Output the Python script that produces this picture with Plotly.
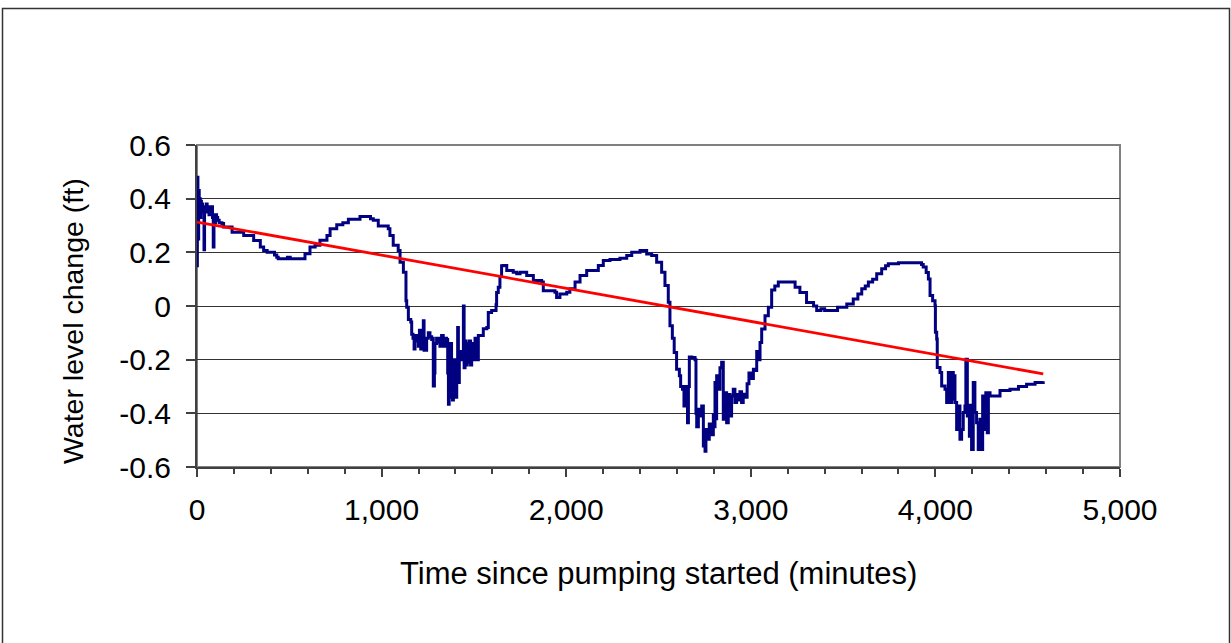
import plotly.graph_objects as go

# Water level record during the pumping test (minutes since start, change in ft)
time_min = [
    0, 2, 5, 7, 9, 12, 15, 18, 21, 24, 27, 30, 34, 38, 41, 45, 50, 55, 60, 65,
    70, 75, 80, 84, 88, 92, 96, 100, 106, 112, 120, 135, 144, 181, 190, 244,
    253, 298, 307, 334, 343, 361, 380, 395, 420, 432, 440, 470, 490, 505, 576,
    585, 612, 640, 666, 704, 721, 757, 790, 820, 883, 928, 940, 955, 982, 1010,
    1036, 1045, 1063, 1090, 1100, 1118, 1132,
    1136, 1145, 1158, 1163, 1170, 1176, 1181, 1190, 1199, 1205, 1212, 1220,
    1226, 1230, 1244, 1253, 1262, 1271, 1276, 1280, 1286, 1289, 1298, 1310,
    1316, 1325, 1334, 1345, 1352, 1358, 1362, 1366, 1370, 1379, 1384, 1389,
    1398, 1407, 1412, 1416, 1421, 1430, 1443, 1447, 1452, 1458, 1464, 1470,
    1476, 1482, 1488, 1497, 1506, 1515, 1524, 1533, 1551, 1570, 1578, 1596,
    1620, 1623, 1632, 1641, 1650,
    1659, 1678, 1713, 1732, 1750, 1786, 1822, 1867, 1876, 1939, 1948, 1966,
    2003, 2020, 2048, 2075, 2111, 2174, 2201, 2237, 2291, 2328, 2355, 2400,
    2436, 2463, 2490, 2517, 2535,
    2553, 2562, 2575, 2585, 2598, 2613, 2620, 2630, 2638, 2645, 2653, 2657,
    2662, 2667, 2680, 2698, 2703, 2707, 2716, 2725, 2734, 2743, 2752, 2757,
    2766, 2775, 2784, 2797, 2802, 2806, 2811, 2815, 2824, 2833, 2842, 2851,
    2860, 2869, 2878, 2887, 2896, 2905, 2914, 2923, 2932, 2941, 2950, 2959,
    2968, 2980, 2990, 3000, 3014, 3023, 3032, 3041, 3050, 3059, 3077, 3095,
    3113, 3130, 3149, 3221, 3240, 3266, 3302, 3321, 3340,
    3357, 3380, 3400, 3447, 3470, 3520, 3555, 3580, 3601, 3620, 3637, 3660,
    3682, 3709, 3730, 3745, 3800, 3907, 3925, 3934, 3950, 3962, 3971, 3985,
    3998, 4000, 4007, 4010, 4025, 4034, 4052, 4061, 4070, 4079, 4088, 4097,
    4101, 4106, 4115, 4124, 4133, 4142, 4151, 4160, 4165, 4173, 4184, 4187,
    4196, 4205, 4214, 4223, 4232, 4241, 4250, 4256, 4268, 4273, 4281, 4287,
    4296, 4350, 4404, 4450, 4494, 4540, 4584,
]

level_ft = [
    0.15, 0.48, 0.40, 0.25, 0.43, 0.36, 0.40, 0.33, 0.39, 0.35, 0.38, 0.36,
    0.37, 0.21, 0.37, 0.35, 0.38, 0.36, 0.37, 0.34, 0.36, 0.35, 0.37, 0.33,
    0.22, 0.33, 0.31, 0.34, 0.33, 0.32, 0.31, 0.307, 0.294, 0.294, 0.275,
    0.275, 0.263, 0.263, 0.244, 0.244, 0.22, 0.207, 0.20, 0.20, 0.19, 0.182,
    0.176, 0.176, 0.182, 0.176, 0.176, 0.195, 0.22, 0.226, 0.245, 0.263,
    0.288, 0.303, 0.31, 0.323, 0.334, 0.334, 0.325, 0.32, 0.298, 0.298,
    0.288, 0.263, 0.226, 0.207, 0.163, 0.126, 0.02,
    -0.005, -0.05, -0.06, -0.105, -0.12, -0.16, -0.11, -0.13, -0.15, -0.09,
    -0.16, -0.11, -0.055, -0.165, -0.12, -0.10, -0.115, -0.125, -0.12,
    -0.298, -0.25, -0.14, -0.12, -0.135, -0.15, -0.11, -0.15, -0.12, -0.125,
    -0.25, -0.366, -0.34, -0.14, -0.20, -0.35, -0.20, -0.34, -0.21, -0.08,
    -0.285, -0.17, -0.20, 0.0, -0.23, -0.13, -0.22, -0.14, -0.21, -0.13,
    -0.22, -0.14, -0.20, -0.12, -0.20, -0.11, -0.11, -0.085, -0.08, -0.024,
    -0.017, 0.005, 0.05, 0.07, 0.11, 0.15,
    0.151, 0.132, 0.126, 0.12, 0.126, 0.114, 0.095, 0.089, 0.057, 0.051,
    0.032, 0.045, 0.051, 0.064, 0.089, 0.114, 0.132, 0.151, 0.17, 0.173,
    0.178, 0.188, 0.20, 0.207, 0.194, 0.188, 0.163, 0.126, 0.076,
    0.014, -0.074, -0.12, -0.173, -0.236, -0.26, -0.30, -0.31, -0.373, -0.30,
    -0.30, -0.435, -0.30, -0.19, -0.192, -0.20, -0.40, -0.45, -0.385, -0.41,
    -0.373, -0.522, -0.541, -0.46, -0.497, -0.44, -0.48, -0.404, -0.45,
    -0.285, -0.42, -0.26, -0.31, -0.23, -0.21, -0.422, -0.323, -0.435, -0.33,
    -0.41, -0.335, -0.31, -0.36, -0.33, -0.35, -0.32, -0.36, -0.329, -0.34,
    -0.29, -0.25, -0.27, -0.236, -0.24, -0.17, -0.20, -0.136, -0.086, -0.036,
    -0.005, 0.06, 0.075, 0.089, 0.089, 0.07, 0.05, 0.013, 0.013, 0.0,
    -0.017, -0.01, -0.017, -0.017, -0.005, 0.007, 0.026, 0.045, 0.064, 0.075,
    0.089, 0.10, 0.12, 0.139, 0.15, 0.157, 0.161, 0.161, 0.155, 0.145, 0.125,
    0.101, 0.039, 0.02, 0.001, -0.098, -0.123, -0.229, -0.248, -0.298, -0.31,
    -0.36, -0.248, -0.36, -0.248, -0.347, -0.26, -0.36, -0.46, -0.373,
    -0.497, -0.46, -0.397, -0.373, -0.198, -0.41, -0.485, -0.37, -0.535,
    -0.285, -0.397, -0.435, -0.535, -0.422, -0.535, -0.335, -0.46, -0.323,
    -0.472, -0.323, -0.335, -0.315, -0.31, -0.30, -0.292, -0.285, -0.28,
]

# Linear trend through the record (end points of the fitted line)
trend_time = [0, 4584]
trend_level = [0.313, -0.253]

# Axis ticks
x_tickvals = [0, 1000, 2000, 3000, 4000, 5000]
x_ticktext = ["0", "1,000", "2,000", "3,000", "4,000", "5,000"]
y_tickvals = [0.6, 0.4, 0.2, 0, -0.2, -0.4, -0.6]
y_ticktext = ["0.6", "0.4", "0.2", "0", "-0.2", "-0.4", "-0.6"]

W, H = 1231, 643
ML, MR, MT, MB = 197, 111, 145, 176
PW, PH = W - ML - MR, H - MT - MB

FONT = "Liberation Sans, Arial, sans-serif"
TICK_SIZE = 30


def px_to_paper_x(px):
    return (px - ML) / PW


def py_to_paper_y(py):
    return (H - MB - py) / PH


fig = go.Figure()
# logger readings are held between samples, so the record is drawn as steps
fig.add_trace(go.Scatter(
    x=time_min, y=level_ft, mode="lines",
    line=dict(color="#000080", width=3, shape="hv"),
    showlegend=False, hoverinfo="x+y",
))
fig.add_trace(go.Scatter(
    x=trend_time, y=trend_level, mode="lines",
    line=dict(color="#FF0000", width=2.8),
    showlegend=False, hoverinfo="skip",
))

fig.update_layout(
    width=W, height=H, autosize=False,
    margin=dict(l=ML, r=MR, t=MT, b=MB, pad=0),
    paper_bgcolor="white", plot_bgcolor="white",
    font=dict(family=FONT, size=TICK_SIZE, color="black"),
    showlegend=False,
    shapes=[
        # plot-area frame (top and right edges show in grey)
        dict(type="rect", xref="paper", yref="paper", x0=0, x1=1, y0=0, y1=1,
             line=dict(color="#808080", width=2), layer="below"),
        # chart-area frame
        dict(type="rect", xref="paper", yref="paper",
             x0=px_to_paper_x(2.5), x1=px_to_paper_x(1229.5),
             y0=py_to_paper_y(700), y1=py_to_paper_y(8.5),
             line=dict(color="#333333", width=1.5), layer="below"),
    ],
    annotations=[
        dict(text="Water level change (ft)", textangle=-90,
             xref="paper", yref="paper",
             x=px_to_paper_x(73), y=py_to_paper_y(321),
             xanchor="center", yanchor="middle", showarrow=False,
             font=dict(family=FONT, size=28.5, color="black")),
        dict(text="Time since pumping started (minutes)",
             xref="paper", yref="paper",
             x=0.5, y=py_to_paper_y(573),
             xanchor="center", yanchor="middle", showarrow=False,
             font=dict(family=FONT, size=31, color="black")),
    ],
)

fig.update_xaxes(
    range=[0, 5000], tickmode="array", tickvals=x_tickvals, ticktext=x_ticktext,
    showline=True, linecolor="#404040", linewidth=2,
    ticks="outside", ticklen=8, tickwidth=1.5, tickcolor="#404040",
    minor=dict(dtick=200, ticks="outside", ticklen=5, tickwidth=1.5,
               tickcolor="#404040", showgrid=False),
    showgrid=False, zeroline=False,
    tickfont=dict(family=FONT, size=TICK_SIZE),
    ticklabelstandoff=7,
)

fig.update_yaxes(
    range=[-0.6, 0.6], tickmode="array", tickvals=y_tickvals, ticktext=y_ticktext,
    showline=True, linecolor="#404040", linewidth=2,
    ticks="outside", ticklen=9, tickwidth=1.5, tickcolor="#404040",
    showgrid=True, gridcolor="#333333", gridwidth=1,
    zeroline=False,
    tickfont=dict(family=FONT, size=TICK_SIZE),
    ticklabelstandoff=9,
)

fig.write_html("out.html")
